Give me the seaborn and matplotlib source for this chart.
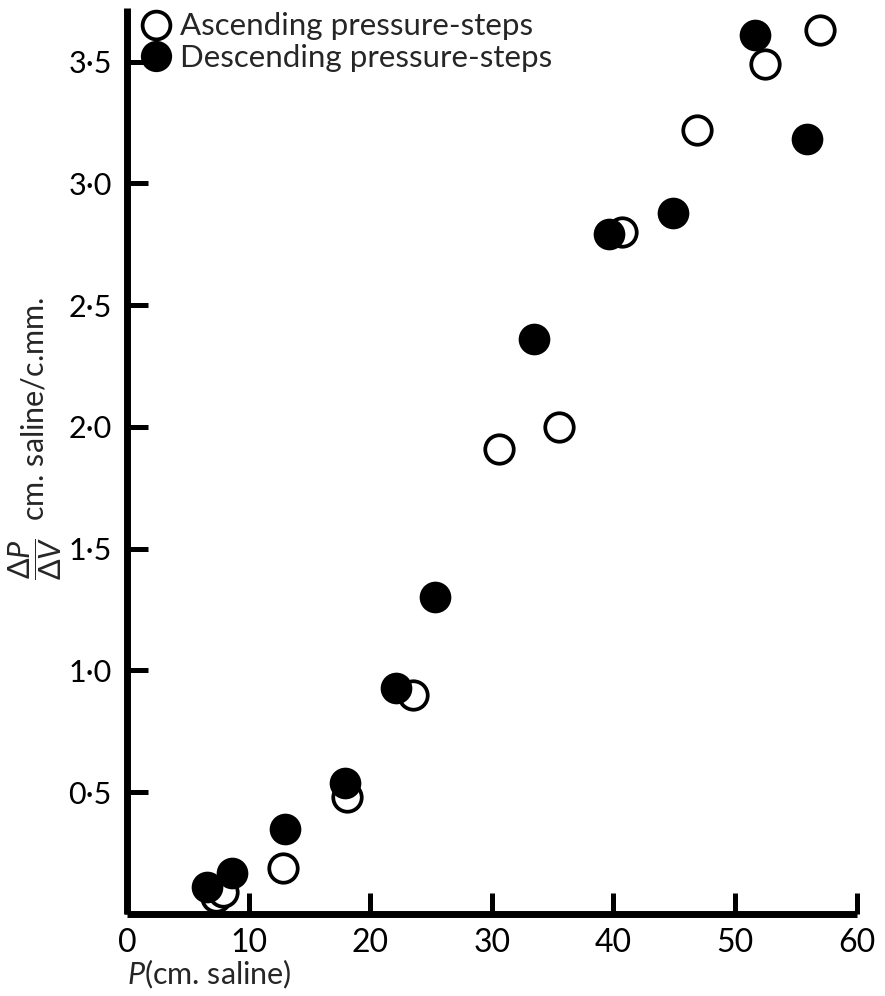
import numpy as np
import pandas as pd
import seaborn as sns
import matplotlib.pyplot as plt
from matplotlib.lines import Line2D

# values
ascending_p = [7.3, 7.9, 12.8, 18.1, 23.5, 30.6, 35.5, 40.7, 46.9, 52.5, 57.0]
ascending_dpdv = [0.07, 0.09, 0.19, 0.48, 0.90, 1.91, 2.00, 2.80, 3.22, 3.49, 3.63]
descending_p = [6.6, 8.6, 13.0, 17.9, 22.1, 25.3, 33.5, 39.6, 44.9, 51.6, 55.9]
descending_dpdv = [0.11, 0.17, 0.35, 0.54, 0.93, 1.30, 2.36, 2.79, 2.88, 3.61, 3.18]

x_ticks = [0, 10, 20, 30, 40, 50, 60]
y_ticks = [0.5, 1.0, 1.5, 2.0, 2.5, 3.0, 3.5]
y_tick_labels = ["0·5", "1·0", "1·5", "2·0", "2·5", "3·0", "3·5"]
series_labels = ["Ascending pressure-steps", "Descending pressure-steps"]

sns.set_style("ticks")
plt.rcParams['font.family'] = ['Lato', 'DejaVu Sans']
plt.rcParams['mathtext.fontset'] = 'custom'
plt.rcParams['mathtext.rm'] = 'Lato'
plt.rcParams['mathtext.it'] = 'Lato:italic'

asc = pd.DataFrame({"P": ascending_p, "dPdV": ascending_dpdv})
desc = pd.DataFrame({"P": descending_p, "dPdV": descending_dpdv})

fig = plt.figure(figsize=(8.85, 9.96), dpi=100)
ax = fig.add_axes([0.1435, 0.0823, 0.968 - 0.1435, 0.992 - 0.0823])

sns.scatterplot(data=asc, x="P", y="dPdV", ax=ax, s=420, marker="o",
                facecolor="white", edgecolor="black", linewidth=2.7, zorder=3)
sns.scatterplot(data=desc, x="P", y="dPdV", ax=ax, s=520, marker="o",
                color="black", edgecolor="black", linewidth=0, zorder=4)

ax.set_xlim(0, 60)
ax.set_ylim(0, 3.72)
ax.set_xticks(x_ticks)
ax.set_xticklabels([str(t) for t in x_ticks])
ax.set_yticks(y_ticks)
ax.set_yticklabels(y_tick_labels)
ax.tick_params(direction="in", length=15, width=3.6, labelsize=23, colors="black")
ax.tick_params(axis="x", pad=10)
ax.tick_params(axis="y", pad=11, labelsize=22)
sns.despine(ax=ax)
for side in ["left", "bottom"]:
    ax.spines[side].set_linewidth(5)
    ax.spines[side].set_color("black")
    ax.spines[side].set_capstyle("butt")

ax.set_xlabel(r"$\it{P}$(cm. saline)", fontsize=22, loc="left", labelpad=0)
ax.set_ylabel(r"$\dfrac{\Delta \it{P}}{\Delta \it{V}}$  cm. saline/c.mm.", fontsize=22)
ax.yaxis.set_label_coords(-0.087, 0.525)

handles = [
    Line2D([], [], marker="o", linestyle="none", markersize=20, markerfacecolor="white",
           markeredgecolor="black", markeredgewidth=2.7),
    Line2D([], [], marker="o", linestyle="none", markersize=22.5, markerfacecolor="black",
           markeredgecolor="black", markeredgewidth=0),
]
ax.legend(handles, series_labels, loc="upper left", bbox_to_anchor=(0.143, 1.0),
          bbox_transform=fig.transFigure, frameon=False, fontsize=22.5,
          handletextpad=0.2, handlelength=1.1, labelspacing=0.1, borderaxespad=0.0)

fig.savefig("out.png", dpi=100)
